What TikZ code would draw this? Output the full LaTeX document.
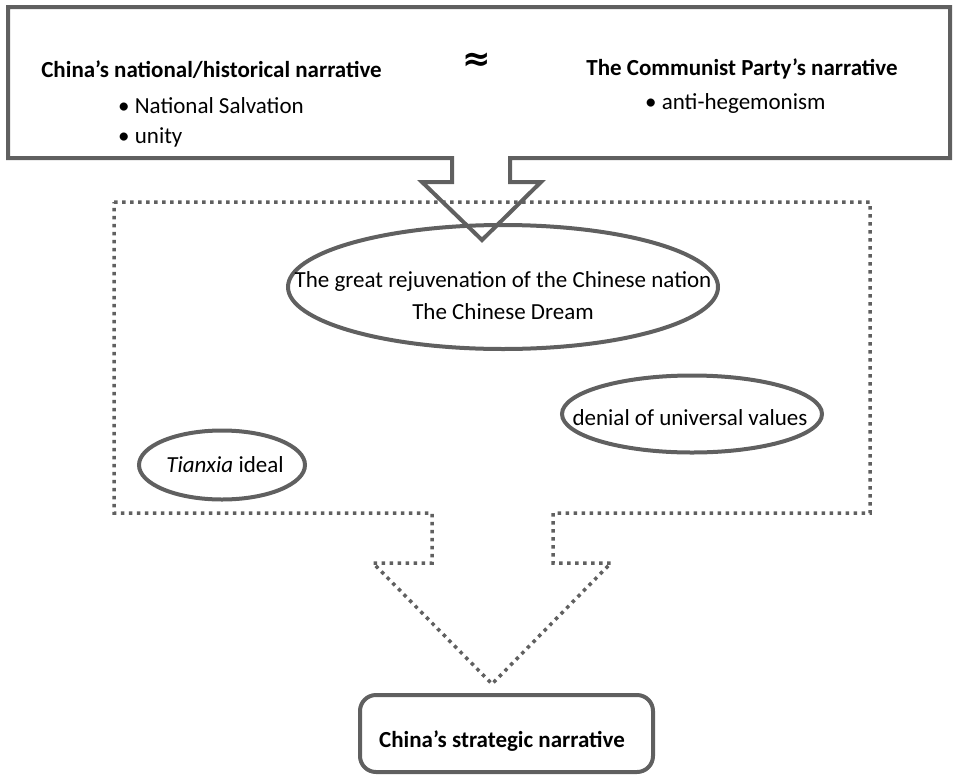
\documentclass[tikz,border=0pt]{standalone}
\usepackage{fontspec}
\setmainfont{Carlito}
\newfontfamily\symfont{DejaVu Sans}
\usetikzlibrary{shapes.geometric}
\definecolor{linegray}{HTML}{606060}
\begin{document}
\begin{tikzpicture}[x=1pt,y=-1pt,
  solidline/.style={draw=linegray,line width=4pt,line join=miter},
  dotline/.style={draw=linegray,line width=3.5pt,dash pattern=on 3.5pt off 4.5pt},
  oval/.style={ellipse,draw=linegray,line width=4pt,inner sep=0pt},
  txt/.style={font=\fontsize{23}{28}\selectfont,inner sep=0pt,align=center},
  boldtxt/.style={txt,font=\fontsize{23}{28}\selectfont\bfseries},
  endbox/.style={draw=linegray,line width=4pt,rounded corners=16pt,inner sep=0pt}]
\useasboundingbox (0,0) rectangle (953,774);
% top box with arrow
\draw[solidline] (8,7) -- (950,7) -- (950,158) -- (510,158) -- (510,182) -- (541,182)
  -- (482,240) -- (422,182) -- (452,182) -- (452,158) -- (8,158) -- cycle;
% dotted box with arrow
\draw[dotline] (114,202) -- (870,202) -- (870,513) -- (553,513) -- (553,563) -- (611,563)
  -- (492,684) -- (373,563) -- (432,563) -- (432,513) -- (114,513) -- cycle;
% top texts
\node[boldtxt] (hist) at (211.5,70) {China’s national/historical narrative};
\node[txt,anchor=west] (salv) at (118,106) {• National Salvation};
\node[txt,anchor=west] (unity) at (118,137) {• unity};
\node[inner sep=0pt,font=\fontsize{34}{36}\selectfont\symfont\bfseries] (approx) at (477,62) {≈};
\node[boldtxt] (party) at (742,69) {The Communist Party’s narrative};
\node[txt,anchor=west] (anti) at (645,103) {• anti-hegemonism};
% ellipses
\node[oval,minimum width=430pt,minimum height=124pt] (big) at (503,287) {};
\node[txt] (bigtxt) at (503,296) {The great rejuvenation of the Chinese nation\\[4pt]The Chinese Dream};
\node[oval,minimum width=260pt,minimum height=77pt] (denial) at (692,414) {};
\node[txt] (denialtxt) at (690,418) {denial of universal values};
\node[oval,minimum width=166pt,minimum height=69pt] (tianxia) at (222,465) {};
\node[txt] (tianxiatxt) at (225,465) {\textit{Tianxia} ideal};
% bottom box
\node[endbox,minimum width=293pt,minimum height=77pt] (strat) at (506.5,733.5) {};
\node[boldtxt] (strattxt) at (502,741) {China’s strategic narrative};
\end{tikzpicture}
\end{document}
